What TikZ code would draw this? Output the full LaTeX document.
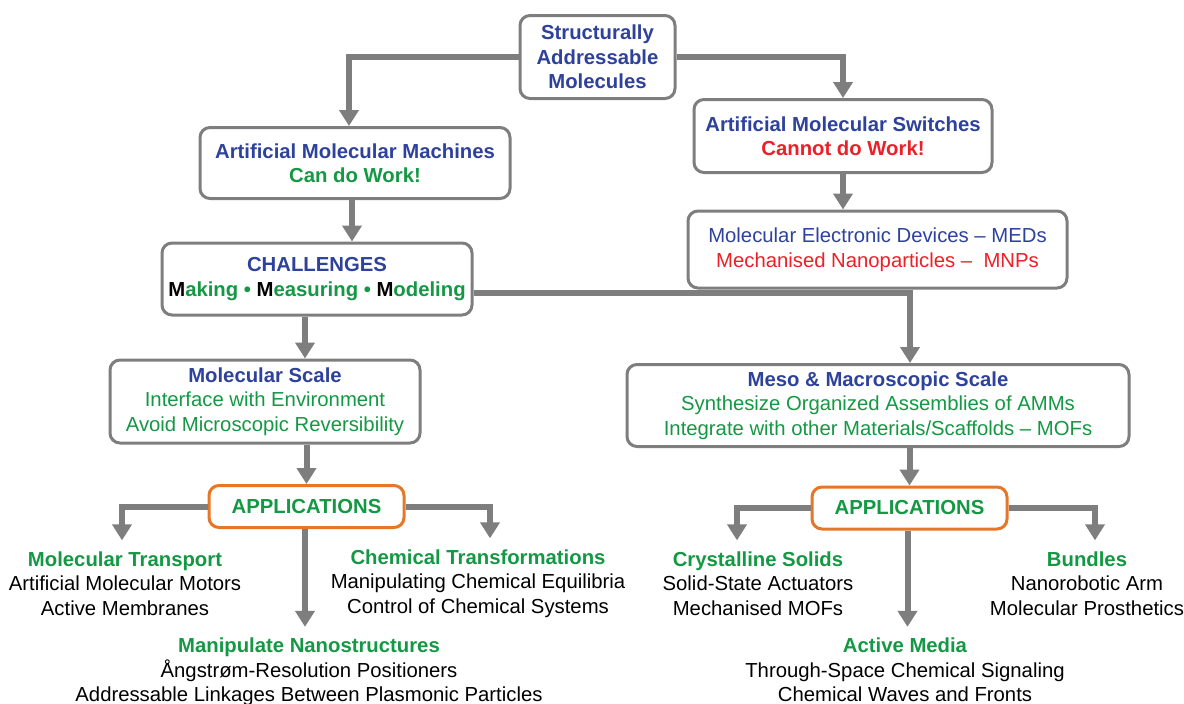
\documentclass[tikz,border=0pt]{standalone}
\usepackage{fontspec}
\setmainfont{Liberation Sans}
\usetikzlibrary{arrows.meta,positioning}
\definecolor{amblue}{RGB}{46,66,155}
\definecolor{amgreen}{RGB}{20,152,68}
\definecolor{amred}{RGB}{236,32,40}
\definecolor{amgray}{RGB}{126,126,126}
\definecolor{amorange}{RGB}{230,118,40}
\tikzstyle{stage} = [rectangle, rounded corners=10pt, draw=amgray, line width=3pt, fill=white, align=center, inner sep=0pt, font=\fontsize{20.3}{24.5}\selectfont]
\tikzstyle{strong} = [font=\bfseries\fontsize{20.3}{24.5}\selectfont]
\tikzstyle{appbox} = [stage, strong, draw=amorange, text=amgreen, minimum width=195pt, minimum height=42pt]
\tikzstyle{leaf} = [align=center, inner xsep=0pt, inner ysep=11pt, font=\fontsize{20.3}{24.5}\selectfont]
\tikzstyle{arrow} = [line width=6pt, draw=amgray, -{Triangle[width=19pt,length=16pt]}]

\begin{document}
\begin{tikzpicture}[x=1pt, y=-1pt]
\useasboundingbox (0,0) rectangle (1184,704);

\node(sam) [stage, strong, text=amblue, minimum width=155pt, minimum height=83pt] at (597.5,57) {Structurally\\Addressable\\Molecules};
\node(amm) [stage, strong, text=amblue, minimum width=310pt, minimum height=71pt] at (355,163) {Artificial Molecular Machines\\\textcolor{amgreen}{Can do Work!}};
\node(ams) [stage, strong, text=amblue, minimum width=298pt, minimum height=73pt] at (843,136) {Artificial Molecular Switches\\\textcolor{amred}{Cannot do Work!}};
\node(med) [stage, text=amblue, minimum width=379pt, minimum height=77pt] at (877.5,249.5) {Molecular Electronic Devices – MEDs\\\textcolor{amred}{Mechanised Nanoparticles –\ \ MNPs}};
\node(chal) [stage, strong, text=amblue, minimum width=310pt, minimum height=72pt] at (317,279) {CHALLENGES\\\textcolor{black}{M}\textcolor{amgreen}{aking • }\textcolor{black}{M}\textcolor{amgreen}{easuring • }\textcolor{black}{M}\textcolor{amgreen}{odeling}};
\node(mol) [stage, text=amgreen, minimum width=310pt, minimum height=83pt] at (265,401.5) {\textcolor{amblue}{\bfseries Molecular Scale}\\Interface with Environment\\Avoid Microscopic Reversibility};
\node(meso) [stage, text=amgreen, minimum width=502pt, minimum height=82pt] at (878,405.5) {\textcolor{amblue}{\bfseries Meso \& Macroscopic Scale}\\Synthesize Organized Assemblies of AMMs\\Integrate with other Materials/Scaffolds – MOFs};
\node(appl) [appbox] at (306.5,506.5) {APPLICATIONS};
\node(appr) [appbox] at (909.5,508) {APPLICATIONS};

% applications of the molecular scale
\node(mt) [leaf] at (125,583.5) {\textcolor{amgreen}{\bfseries Molecular Transport}\\Artificial Molecular Motors\\Active Membranes};
\node(ct) [leaf] at (478,583.5) {\textcolor{amgreen}{\bfseries Chemical Transformations}\\Manipulating Chemical Equilibria\\Control of Chemical Systems};
\node(mn) [leaf] at (309,672) {\textcolor{amgreen}{\bfseries Manipulate Nanostructures}\\Ångstrøm-Resolution Positioners\\Addressable Linkages Between Plasmonic Particles};

% applications of the meso and macroscopic scale
\node(cs) [leaf] at (758,583.5) {\textcolor{amgreen}{\bfseries Crystalline Solids}\\Solid-State Actuators\\Mechanised MOFs};
\node(bu) [leaf] at (1087,583.5) {\textcolor{amgreen}{\bfseries Bundles}\\Nanorobotic Arm\\Molecular Prosthetics};
\node(am) [leaf] at (905,670) {\textcolor{amgreen}{\bfseries Active Media}\\Through-Space Chemical Signaling\\Chemical Waves and Fronts};


\draw [arrow] (sam.west) -| ([xshift=-6pt]amm.north);
\draw [arrow] (sam.east) -| (ams.north);
\draw [arrow] ([xshift=-3pt]amm.south) -- ([xshift=-3pt]amm.south |- chal.north);
\draw [arrow] (ams.south) -- (ams.south |- med.north);
\draw [arrow] ([yshift=-14pt]chal.east) -| ([xshift=32pt]meso.north);
\draw [arrow] ([xshift=-12pt]chal.south) -- ([xshift=-12pt]chal.south |- mol.north);
\draw [arrow] (appl.north |- mol.south) -- (appl.north);
\draw [arrow] (appr.north |- meso.south) -- (appr.north);

\draw [arrow] (appl.west) -| ([xshift=-3pt]mt.north);
\draw [arrow] (appl.east) -| ([xshift=12pt]ct.north);
\draw [arrow] ([xshift=-1.5pt]appl.south) -- ([xshift=-1.5pt]appl.south |- mn.north);
\draw [arrow] (appr.west) -| ([xshift=-21pt]cs.north);
\draw [arrow] (appr.east) -| ([xshift=8pt]bu.north);
\draw [arrow] ([xshift=-2pt]appr.south) -- ([xshift=-2pt]appr.south |- am.north);

\end{tikzpicture}
\end{document}
